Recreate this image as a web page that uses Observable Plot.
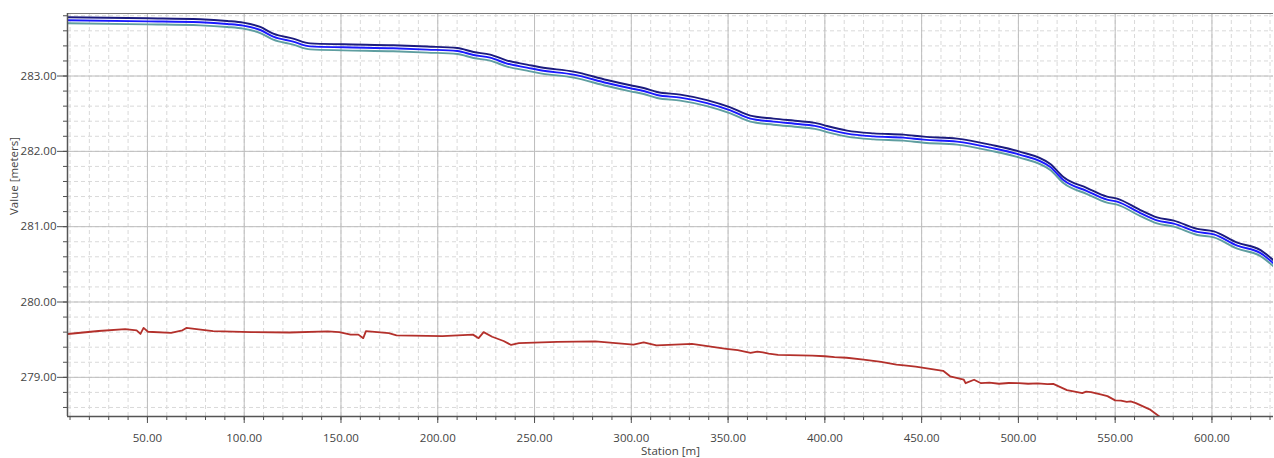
<!DOCTYPE html>
<html>
<head>
<meta charset="utf-8">
<script src="https://cdn.jsdelivr.net/npm/d3@7"></script>
<script src="https://cdn.jsdelivr.net/npm/@observablehq/plot@0.6"></script>
<style>
html, body { margin: 0; padding: 0; background: #fff; }
#chart svg { display: block; }
</style>
</head>
<body>
<div id="chart"></div>
<script>
// ---- data ----
const stations = [8.7, 50, 77.3, 91.2, 99.5, 108.3, 115.0, 125.3, 134.1, 151.2, 177.0, 194.6, 210.1, 218.5, 227.1, 235.8, 246.1, 253.0, 270.2, 287.4, 299.5, 306.4, 313.3, 325.3, 339.1, 351.2, 361.5, 373.5, 387.3, 396.0, 401.1, 411.5, 425.2, 440.7, 451.1, 468.3, 485.5, 500.2, 516.5, 523.4, 535.5, 545.8, 551.0, 563.0, 571.6, 580.3, 592.4, 601.0, 613.1, 625.1, 632.0];

const navyValues = [283.780, 283.766, 283.753, 283.731, 283.709, 283.651, 283.563, 283.497, 283.434, 283.421, 283.408, 283.391, 283.372, 283.319, 283.284, 283.205, 283.152, 283.116, 283.059, 282.947, 282.877, 282.841, 282.788, 282.753, 282.681, 282.584, 282.474, 282.434, 282.399, 282.372, 282.336, 282.275, 282.239, 282.222, 282.195, 282.169, 282.089, 282.000, 281.831, 281.655, 281.513, 281.399, 281.372, 281.221, 281.124, 281.080, 280.970, 280.937, 280.788, 280.689, 280.549];

const blueValues = [283.740, 283.726, 283.713, 283.691, 283.669, 283.611, 283.523, 283.457, 283.394, 283.381, 283.368, 283.351, 283.332, 283.279, 283.244, 283.165, 283.112, 283.076, 283.019, 282.907, 282.837, 282.801, 282.748, 282.713, 282.641, 282.544, 282.434, 282.394, 282.359, 282.332, 282.296, 282.235, 282.199, 282.182, 282.155, 282.129, 282.049, 281.960, 281.791, 281.615, 281.473, 281.359, 281.332, 281.181, 281.084, 281.040, 280.930, 280.897, 280.748, 280.649, 280.509];

const tealValues = [283.700, 283.686, 283.673, 283.651, 283.629, 283.571, 283.483, 283.417, 283.354, 283.341, 283.328, 283.311, 283.292, 283.239, 283.204, 283.125, 283.072, 283.036, 282.979, 282.867, 282.797, 282.761, 282.708, 282.673, 282.601, 282.504, 282.394, 282.354, 282.319, 282.292, 282.256, 282.195, 282.159, 282.142, 282.115, 282.089, 282.009, 281.920, 281.751, 281.575, 281.433, 281.319, 281.292, 281.141, 281.044, 281.000, 280.890, 280.857, 280.708, 280.609, 280.469];

const redStations = [8.8, 24.7, 38.5, 44.4, 46.4, 48.0, 50.3, 62.2, 68.1, 70.1, 83.9, 103.7, 123.4, 143.2, 149.1, 155.0, 159.0, 161.5, 162.9, 174.7, 178.7, 202.4, 218.2, 221.1, 223.7, 228.1, 234.0, 237.9, 241.9, 261.7, 281.4, 301.1, 306.4, 313.0, 322.4, 331.3, 349.1, 355.0, 358.0, 361.6, 365.1, 368.0, 371.0, 375.8, 393.5, 400.0, 405.0, 411.3, 420.0, 429.1, 437.0, 441.0, 446.9, 461.1, 464.7, 471.8, 472.7, 477.1, 480.7, 485.0, 490.0, 495.0, 500.2, 505.0, 510.0, 515.0, 518.0, 525.1, 530.4, 533.0, 535.0, 537.5, 543.0, 546.0, 550.0, 553.0, 556.0, 558.0, 560.7, 567.8, 573.1, 576.0];

const redValues = [279.575, 279.615, 279.640, 279.624, 279.576, 279.656, 279.605, 279.591, 279.624, 279.656, 279.614, 279.600, 279.595, 279.609, 279.600, 279.567, 279.567, 279.520, 279.614, 279.586, 279.558, 279.548, 279.567, 279.520, 279.600, 279.539, 279.482, 279.430, 279.454, 279.470, 279.478, 279.435, 279.465, 279.425, 279.434, 279.445, 279.379, 279.360, 279.345, 279.324, 279.342, 279.330, 279.315, 279.297, 279.288, 279.280, 279.268, 279.260, 279.235, 279.205, 279.170, 279.160, 279.142, 279.087, 279.014, 278.968, 278.922, 278.968, 278.922, 278.930, 278.915, 278.925, 278.922, 278.915, 278.920, 278.910, 278.913, 278.831, 278.804, 278.790, 278.810, 278.804, 278.770, 278.750, 278.694, 278.690, 278.675, 278.680, 278.658, 278.575, 278.475, 278.400];

const xMajorTicks = [50, 100, 150, 200, 250, 300, 350, 400, 450, 500, 550, 600];
const yMajorTicks = [279, 280, 281, 282, 283];
const xMinorTicks = d3.range(1, 64).map(i => i * 10);
const yMinorTicks = d3.range(0, 27).map(i => Math.round((278.6 + i * 0.2) * 10) / 10);

const xDomain = [8.7, 631.8];
const yDomain = [278.48, 283.83];

// ---- tables ----
const seriesRows = (vals, name) => stations.map((s, i) => ({station: s, value: vals[i], series: name}));
const navyRows = seriesRows(navyValues, "navy");
const blueRows = seriesRows(blueValues, "blue");
const tealRows = seriesRows(tealValues, "teal");
const redRows = redStations.map((s, i) => ({station: s, value: redValues[i]}));

const fmt = d3.format(".2f");
const axisColor = "#505050";

const chart = Plot.plot({
  width: 1274,
  height: 458,
  marginLeft: 67,
  marginRight: 1,
  marginTop: 13,
  marginBottom: 42,
  x: {domain: xDomain, axis: null},
  y: {domain: yDomain, axis: null},
  style: {fontFamily: "'Open Sans', sans-serif", fontSize: "11.5px", background: "#fff", color: "#444"},
  marks: [
    // minor grid (dashed)
    Plot.ruleX(xMinorTicks, {stroke: "#d9d9d9", strokeDasharray: "4,3"}),
    Plot.ruleY(yMinorTicks, {stroke: "#d9d9d9", strokeDasharray: "4,3"}),
    // major grid (solid)
    Plot.ruleX(xMajorTicks, {stroke: "#bdbdbd"}),
    Plot.ruleY(yMajorTicks, {stroke: "#bdbdbd"}),
    // top border
    Plot.ruleY([yDomain[1]], {stroke: "#7a7a7a"}),
    // data lines
    Plot.line(redRows, {x: "station", y: "value", stroke: "#b3302b", strokeWidth: 1.8, clip: true}),
    Plot.line(tealRows, {x: "station", y: "value", stroke: "#5f9ea0", strokeWidth: 1.9, curve: "monotone-x", clip: true}),
    Plot.line(blueRows, {x: "station", y: "value", stroke: "#1a1aff", strokeWidth: 1.9, curve: "monotone-x", clip: true}),
    Plot.line(navyRows, {x: "station", y: "value", stroke: "#1b1b7e", strokeWidth: 1.9, curve: "monotone-x", clip: true}),
    // axis lines
    Plot.ruleX([xDomain[0]], {stroke: "#555", strokeWidth: 1.5}),
    Plot.ruleY([yDomain[0]], {stroke: "#555", strokeWidth: 1.5}),
    // x axis ticks
    Plot.axisX(xMinorTicks, {anchor: "bottom", tickSize: 4, tickFormat: () => "", label: null, stroke: axisColor}),
    Plot.axisX(xMajorTicks, {anchor: "bottom", tickSize: 7, tickPadding: 10, tickFormat: fmt, label: null, stroke: axisColor, fill: "#444"}),
    // y axis ticks
    Plot.axisY(yMinorTicks, {anchor: "left", tickSize: 4, tickFormat: () => "", label: null, stroke: axisColor}),
    Plot.axisY(yMajorTicks, {anchor: "left", tickSize: 10, tickPadding: 1, tickFormat: fmt, label: null, stroke: axisColor, fill: "#444"}),
    // axis titles
    Plot.text(["Station [m]"], {text: d => d, frameAnchor: "bottom", dy: 38, fill: "#444", fontSize: 11.5}),
    Plot.text(["Value [meters]"], {text: d => d, frameAnchor: "left", dx: -53, rotate: -90, fill: "#444", fontSize: 11.5})
  ]
});

document.getElementById("chart").appendChild(chart);
</script>
</body>
</html>
